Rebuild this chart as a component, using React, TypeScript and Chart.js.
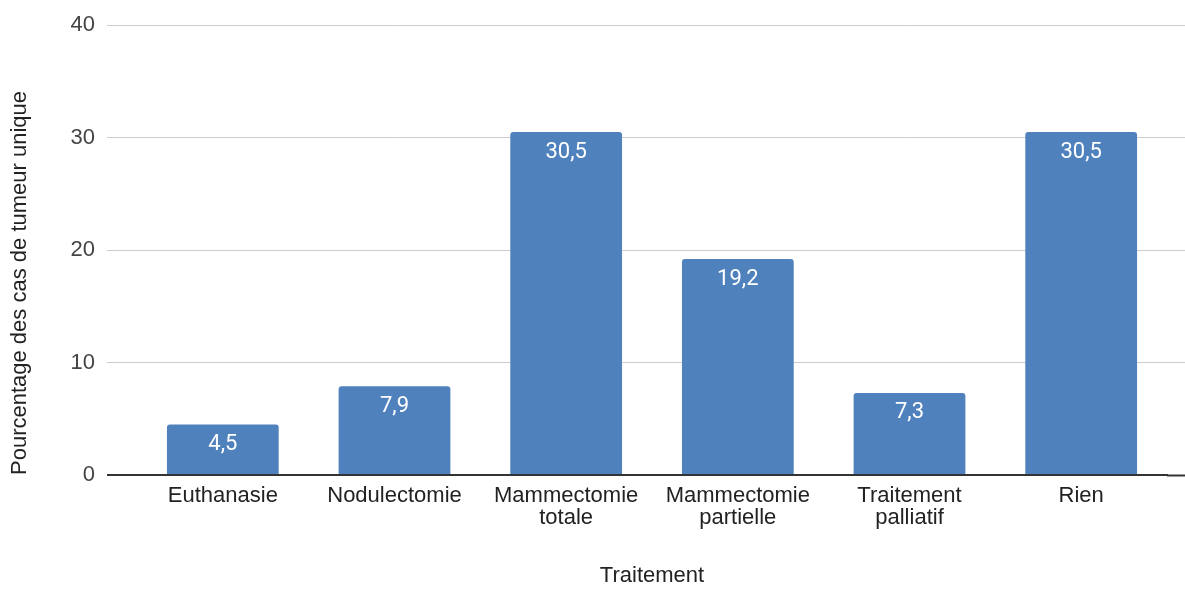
import React, { useEffect, useRef } from "react";
import { Chart, registerables } from "chart.js";

Chart.register(...registerables);

const categories: (string | string[])[] = [
  "Euthanasie",
  "Nodulectomie",
  ["Mammectomie", "totale"],
  ["Mammectomie", "partielle"],
  ["Traitement", "palliatif"],
  "Rien",
];
const values: number[] = [4.5, 7.9, 30.5, 19.2, 7.3, 30.5];
const yTicks: number[] = [0, 10, 20, 30, 40];
const yTitle = "Pourcentage des cas de tumeur unique";
const xTitle = "Traitement";

const AXIS_FONT = "Arial, 'Liberation Sans', sans-serif";
const LABEL_FONT = "Roboto, 'Noto Sans', sans-serif";

const dataLabels = {
  id: "dataLabels",
  afterDatasetsDraw(chart: any) {
    const ctx = chart.ctx;
    const meta = chart.getDatasetMeta(0);
    ctx.save();
    ctx.fillStyle = "#ffffff";
    ctx.font = `22px ${LABEL_FONT}`;
    ctx.textAlign = "center";
    ctx.textBaseline = "middle";
    meta.data.forEach((bar: any, i: number) => {
      const v = chart.data.datasets[0].data[i] as number;
      ctx.fillText(String(v).replace(".", ","), bar.x, bar.y + 20);
    });
    ctx.restore();
  },
};

export default function App() {
  const ref = useRef<HTMLCanvasElement | null>(null);
  useEffect(() => {
    document.body.style.margin = "0";
    if (!ref.current) return;
    const zeroColor = (c: any) => (c.tick && c.tick.value === 0 ? "#333333" : "#cccccc");
    const zeroWidth = (c: any) => (c.tick && c.tick.value === 0 ? 2 : 1);
    const chart = new Chart(ref.current, {
      type: "bar",
      data: {
        labels: categories as any,
        datasets: [
          {
            data: values,
            backgroundColor: "#4f81bd",
            categoryPercentage: 1,
            barPercentage: 0.651,
            borderRadius: 3,
          },
        ],
      },
      options: {
        animation: false,
        responsive: false,
        maintainAspectRatio: false,
        layout: { padding: { top: 22, left: 0, right: 0, bottom: 0 } },
        plugins: {
          legend: { display: false },
          tooltip: { enabled: false },
        },
        scales: {
          x: {
            z: 1,
            grid: { display: false, drawTicks: false },
            border: { display: true, color: "#333333", width: 2 },
            ticks: {
              padding: 10,
              color: "#222222",
              font: { family: AXIS_FONT, size: 22, lineHeight: 1 },
              maxRotation: 0,
              autoSkip: false,
            },
            title: {
              display: true,
              text: xTitle,
              color: "#222222",
              font: { family: AXIS_FONT, size: 22, lineHeight: 1.2 },
              padding: { top: 0, bottom: 1 },
            },
            afterFit: (s: any) => {
              s.height = 115;
            },
          },
          y: {
            min: 0,
            max: 40,
            afterBuildTicks: (s: any) => {
              s.ticks = yTicks.map((v) => ({ value: v }));
            },
            grid: {
              color: zeroColor,
              tickColor: zeroColor,
              lineWidth: zeroWidth,
              tickWidth: zeroWidth,
              tickLength: 30,
              drawTicks: true,
            },
            border: { display: false },
            ticks: {
              padding: 12,
              color: "#444444",
              font: { family: AXIS_FONT, size: 22 },
            },
            title: {
              display: true,
              text: yTitle,
              align: "start",
              color: "#222222",
              font: { family: AXIS_FONT, size: 22, lineHeight: 1.2 },
              padding: { top: 7, bottom: 0 },
            },
            afterFit: (s: any) => {
              s.width = 137;
            },
          },
          y2: {
            position: "right",
            min: 0,
            max: 40,
            afterBuildTicks: (s: any) => {
              s.ticks = yTicks.map((v) => ({ value: v }));
            },
            grid: {
              drawOnChartArea: false,
              drawTicks: true,
              tickLength: 18,
              tickColor: zeroColor,
              tickWidth: zeroWidth,
            },
            border: { display: false },
            ticks: { display: false },
            afterFit: (s: any) => {
              s.width = 18;
            },
          },
        },
      },
      plugins: [dataLabels],
    });
    return () => chart.destroy();
  }, []);
  return (
    <div style={{ width: 1185, height: 590, position: "relative" }}>
      <canvas ref={ref} width={1185} height={590} style={{ width: 1185, height: 590 }} />
    </div>
  );
}
